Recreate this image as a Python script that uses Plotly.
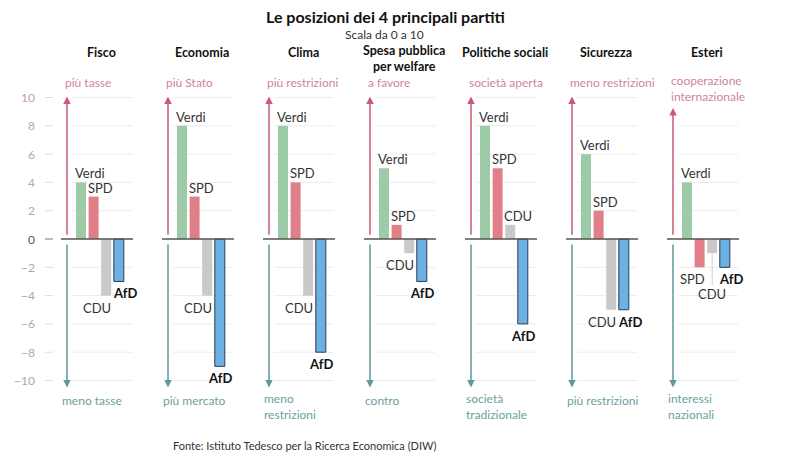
import plotly.graph_objects as go

# ---------------- data ----------------
categories = ["Fisco", "Economia", "Clima", "Spesa pubblica<br>per welfare",
              "Politiche sociali", "Sicurezza", "Esteri"]
top_labels = ["più tasse", "più Stato", "più restrizioni", "a favore",
              "società aperta", "meno restrizioni", "cooperazione<br>internazionale"]
bottom_labels = ["meno tasse", "più mercato", "meno<br>restrizioni", "contro",
                 "società<br>tradizionale", "più restrizioni", "interessi<br>nazionali"]
parties = ["Verdi", "SPD", "CDU", "AfD"]
verdi = [4, 8, 8, 5, 8, 6, 4]
spd = [3, 3, 4, 1, 5, 2, -2]
cdu = [-4, -4, -4, -1, 1, -5, -1]
afd = [-3, -9, -8, -3, -6, -5, -2]
y_ticks = [10, 8, 6, 4, 2, 0, -2, -4, -6, -8, -10]
title = "Le posizioni dei 4 principali partiti"
subtitle = "Scala da 0 a 10"
source = "Fonte: Istituto Tedesco per la Ricerca Economica (DIW)"

# ---------------- style / layout ----------------
W, H = 800, 466
FONT = "Lato"
colors = {"Verdi": "#9dcaa7", "SPD": "#e07f87", "CDU": "#c9c9c9", "AfD": "#6db0e3"}
PINK_TXT = "#cf8597"
TEAL_TXT = "#6a9fa0"
ARROW_UP = "#c75b73"
ARROW_DN = "#5f9a98"
ZERO_PX = 239.0
UNIT_PX = 14.15
PANEL0 = 67
PANEL_STEP = 101
BAR_OFF0 = 14
BAR_STEP = 12.6
BAR_W = 10
LINE_H = 13

y_top = ZERO_PX / UNIT_PX
y_bot = -(H - ZERO_PX) / UNIT_PX


def px_y(px):
    return 1 - px / H


def px_x(px):
    return px / W


values = {"Verdi": verdi, "SPD": spd, "CDU": cdu, "AfD": afd}
n = len(categories)
bases = [PANEL0 + PANEL_STEP * i for i in range(n)]


def bar_x(i, k):
    return bases[i] + BAR_OFF0 + BAR_STEP * k


fig = go.Figure()
for k, p in enumerate(parties):
    fig.add_trace(go.Bar(
        x=[bar_x(i, k) for i in range(n)],
        y=values[p],
        width=BAR_W,
        marker=dict(color=colors[p],
                    line=dict(color="#2c3d52" if p == "AfD" else colors[p],
                              width=1 if p == "AfD" else 0)),
        name=p,
        showlegend=False,
        hoverinfo="skip",
    ))

shapes = []
annotations = []


def add_text(text, x, y0_px, anchor, size, color, bold=False, bg=None):
    lines = text.split("<br>")
    t = "<br>".join(("<b>" + l + "</b>") if bold else l for l in lines)
    yc = y0_px + LINE_H * (len(lines) - 1) / 2
    a = dict(x=px_x(x), y=px_y(yc), xref="paper", yref="paper",
             text=t, showarrow=False, xanchor=anchor, yanchor="middle",
             align=anchor if anchor != "center" else "center",
             borderpad=0, font=dict(family=FONT, size=size, color=color))
    if bg:
        a["bgcolor"] = bg
    annotations.append(a)


# y tick labels and dashes
for t in y_ticks:
    col = "#c4a2a8" if t > 0 else ("#555555" if t == 0 else "#a2aaae")
    lbl = str(t) if t >= 0 else "\u2212" + str(-t)
    annotations.append(dict(x=37, y=t, xref="x", yref="y", text=lbl, showarrow=False,
                            xanchor="right", yanchor="middle",
                            font=dict(family=FONT, size=12, color=col)))
    shapes.append(dict(type="line", xref="x", yref="y", x0=45, x1=53, y0=t, y1=t,
                       line=dict(color="#777777" if t == 0 else "#dddddd", width=1)))

for i in range(n):
    b = bases[i]
    # gridlines
    for t in y_ticks:
        if t == 0:
            continue
        shapes.append(dict(type="line", xref="x", yref="y", x0=b + 5, x1=b + 65,
                           y0=t, y1=t, layer="below",
                           line=dict(color="#ececec", width=1)))
    # zero line
    shapes.append(dict(type="line", xref="x", yref="y", x0=b - 6, x1=b + 66,
                       y0=0, y1=0, layer="above",
                       line=dict(color="#555555", width=1.5)))
    # panel title
    add_text(categories[i], b + 34, 52, "center", 12.5, "#111111", bold=True)
    two_top = "<br>" in top_labels[i]
    # direction labels
    add_text(top_labels[i], b - 3, 82, "left", 12, PINK_TXT, bg="white")
    add_text(bottom_labels[i], b - 6, 400, "left", 12, TEAL_TXT)
    # arrows
    tip_up = 9.25 if two_top else 10.07
    annotations.append(dict(x=b, y=tip_up, ax=b, ay=0.2, xref="x", yref="y",
                            axref="x", ayref="y", text="", showarrow=True,
                            arrowhead=2, arrowsize=1, arrowwidth=1.5,
                            arrowcolor=ARROW_UP))
    annotations.append(dict(x=b, y=-10.5, ax=b, ay=-0.28, xref="x", yref="y",
                            axref="x", ayref="y", text="", showarrow=True,
                            arrowhead=2, arrowsize=1, arrowwidth=1.5,
                            arrowcolor=ARROW_DN))

    # bar labels
    for k, p in enumerate(parties):
        v = values[p][i]
        cx = bar_x(i, k)
        bold = p == "AfD"
        txt = "<b>" + p + "</b>" if bold else p
        fnt = dict(family=FONT, size=13, color="#111111" if bold else "#333333")
        if v >= 0:
            annotations.append(dict(x=cx - BAR_W / 2 - 2, y=v, xref="x", yref="y",
                                    text=txt, showarrow=False, xanchor="left",
                                    yanchor="bottom", yshift=0, borderpad=0, font=fnt))
        else:
            if p == "AfD":
                shift = 6 if (cdu[i] < 0 and abs(cdu[i] - v) <= 1) else 0
                annotations.append(dict(x=cx + shift, y=v, xref="x", yref="y",
                                        text=txt, showarrow=False, xanchor="center",
                                        yanchor="top", yshift=-3, borderpad=0, font=fnt))
            elif p == "CDU" and spd[i] < 0:
                # pushed below the SPD label, with a leader line
                ylab = min(v, spd[i])
                annotations.append(dict(x=cx, y=ylab, xref="x", yref="y",
                                        text=txt, showarrow=False, xanchor="center",
                                        yanchor="top", yshift=-18, borderpad=0, font=fnt))
                shapes.append(dict(type="line", xref="x", yref="y", x0=cx, x1=cx,
                                   y0=v, y1=ylab - 1.25,
                                   line=dict(color="#cfcfcf", width=1)))
            else:
                annotations.append(dict(x=cx + BAR_W / 2 + 1, y=v, xref="x", yref="y",
                                        text=txt, showarrow=False, xanchor="right",
                                        yanchor="top", yshift=-3, borderpad=0, font=fnt))

# titles and source
add_text(title, 385, 17, "center", 16, "#111111", bold=True)
add_text(subtitle, 384, 34, "center", 12, "#333333")
add_text(source, 172, 445, "left", 11, "#333333")

fig.update_layout(
    width=W, height=H,
    margin=dict(l=0, r=0, t=0, b=0),
    paper_bgcolor="white", plot_bgcolor="white",
    xaxis=dict(range=[0, W], visible=False, fixedrange=True),
    yaxis=dict(range=[y_bot, y_top], visible=False, fixedrange=True),
    barmode="overlay",
    shapes=shapes,
    annotations=annotations,
    font=dict(family=FONT),
)

fig.write_html("out.html", config={"displayModeBar": False},
               post_script="document.body.style.margin='0';document.body.style.overflow='hidden';")
